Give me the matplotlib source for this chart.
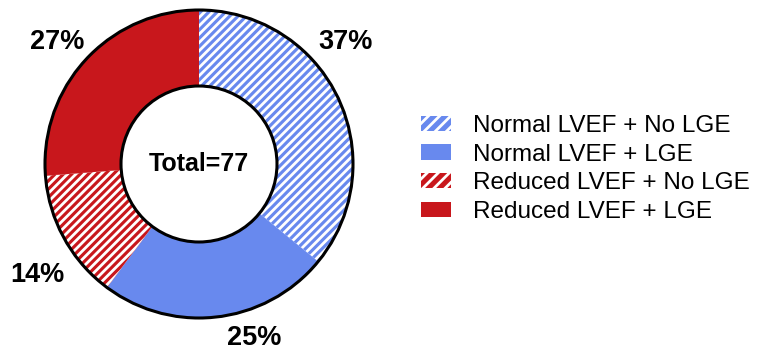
import matplotlib
matplotlib.use("Agg")
import matplotlib.pyplot as plt
from matplotlib.patches import Patch, Circle

plt.rcParams['font.family'] = ['Liberation Sans', 'DejaVu Sans']
plt.rcParams['hatch.linewidth'] = 2.0

categories = ["Normal LVEF + No LGE", "Normal LVEF + LGE",
              "Reduced LVEF + No LGE", "Reduced LVEF + LGE"]
percentages = [37, 25, 14, 27]
pct_labels = ["37%", "25%", "14%", "27%"]
total_label = "Total=77"

blue = "#6889EE"
red = "#C8171C"
colors = [blue, blue, red, red]
hatches = ["////", None, "////", None]
legend_hatches = ["///", None, "///", None]

W, H = 765, 353
fig = plt.figure(figsize=(W / 100, H / 100), dpi=100)

cx, cy, R = 199, 164, 154
ax = fig.add_axes([(cx - R) / W, (H - cy - R) / H, 2 * R / W, 2 * R / H])

inner = 78 / R
wedges, _ = ax.pie(percentages, colors=colors, startangle=90, counterclock=False,
                   radius=1, wedgeprops=dict(width=1 - inner, linewidth=0,
                                             edgecolor="white"))
for w, h in zip(wedges, hatches):
    if h:
        w.set_hatch(h)
ax.set_xlim(-1, 1)
ax.set_ylim(-1, 1)
ax.set_aspect("equal")
ax.axis("off")

# black rims on the outer and inner edge of the ring
ax.add_patch(Circle((0, 0), 1, fill=False, edgecolor="black", linewidth=2.2, clip_on=False))
ax.add_patch(Circle((0, 0), inner, fill=False, edgecolor="black", linewidth=2.2, clip_on=False))

ax.text(0, 0.0, total_label, ha="center", va="center", fontsize=18,
        fontweight="bold")

label_pos = [(0.95, 0.79), (0.36, -1.13), (-1.05, -0.72), (-0.92, 0.79)]
for (x, y), t in zip(label_pos, pct_labels):
    ax.text(x, y, t, ha="center", va="center", fontsize=19.5, fontweight="bold",
            clip_on=False)

handles = [Patch(facecolor=c, edgecolor="white", linewidth=0, hatch=h)
           for c, h in zip(colors, legend_hatches)]
fig.legend(handles, categories, loc="center left", bbox_to_anchor=(399 / W, 1 - 169 / H),
           frameon=False, fontsize=17.5, handlelength=1.23, handleheight=0.58,
           handletextpad=0.9, labelspacing=0.28)

fig.savefig("out.png", dpi=100)
